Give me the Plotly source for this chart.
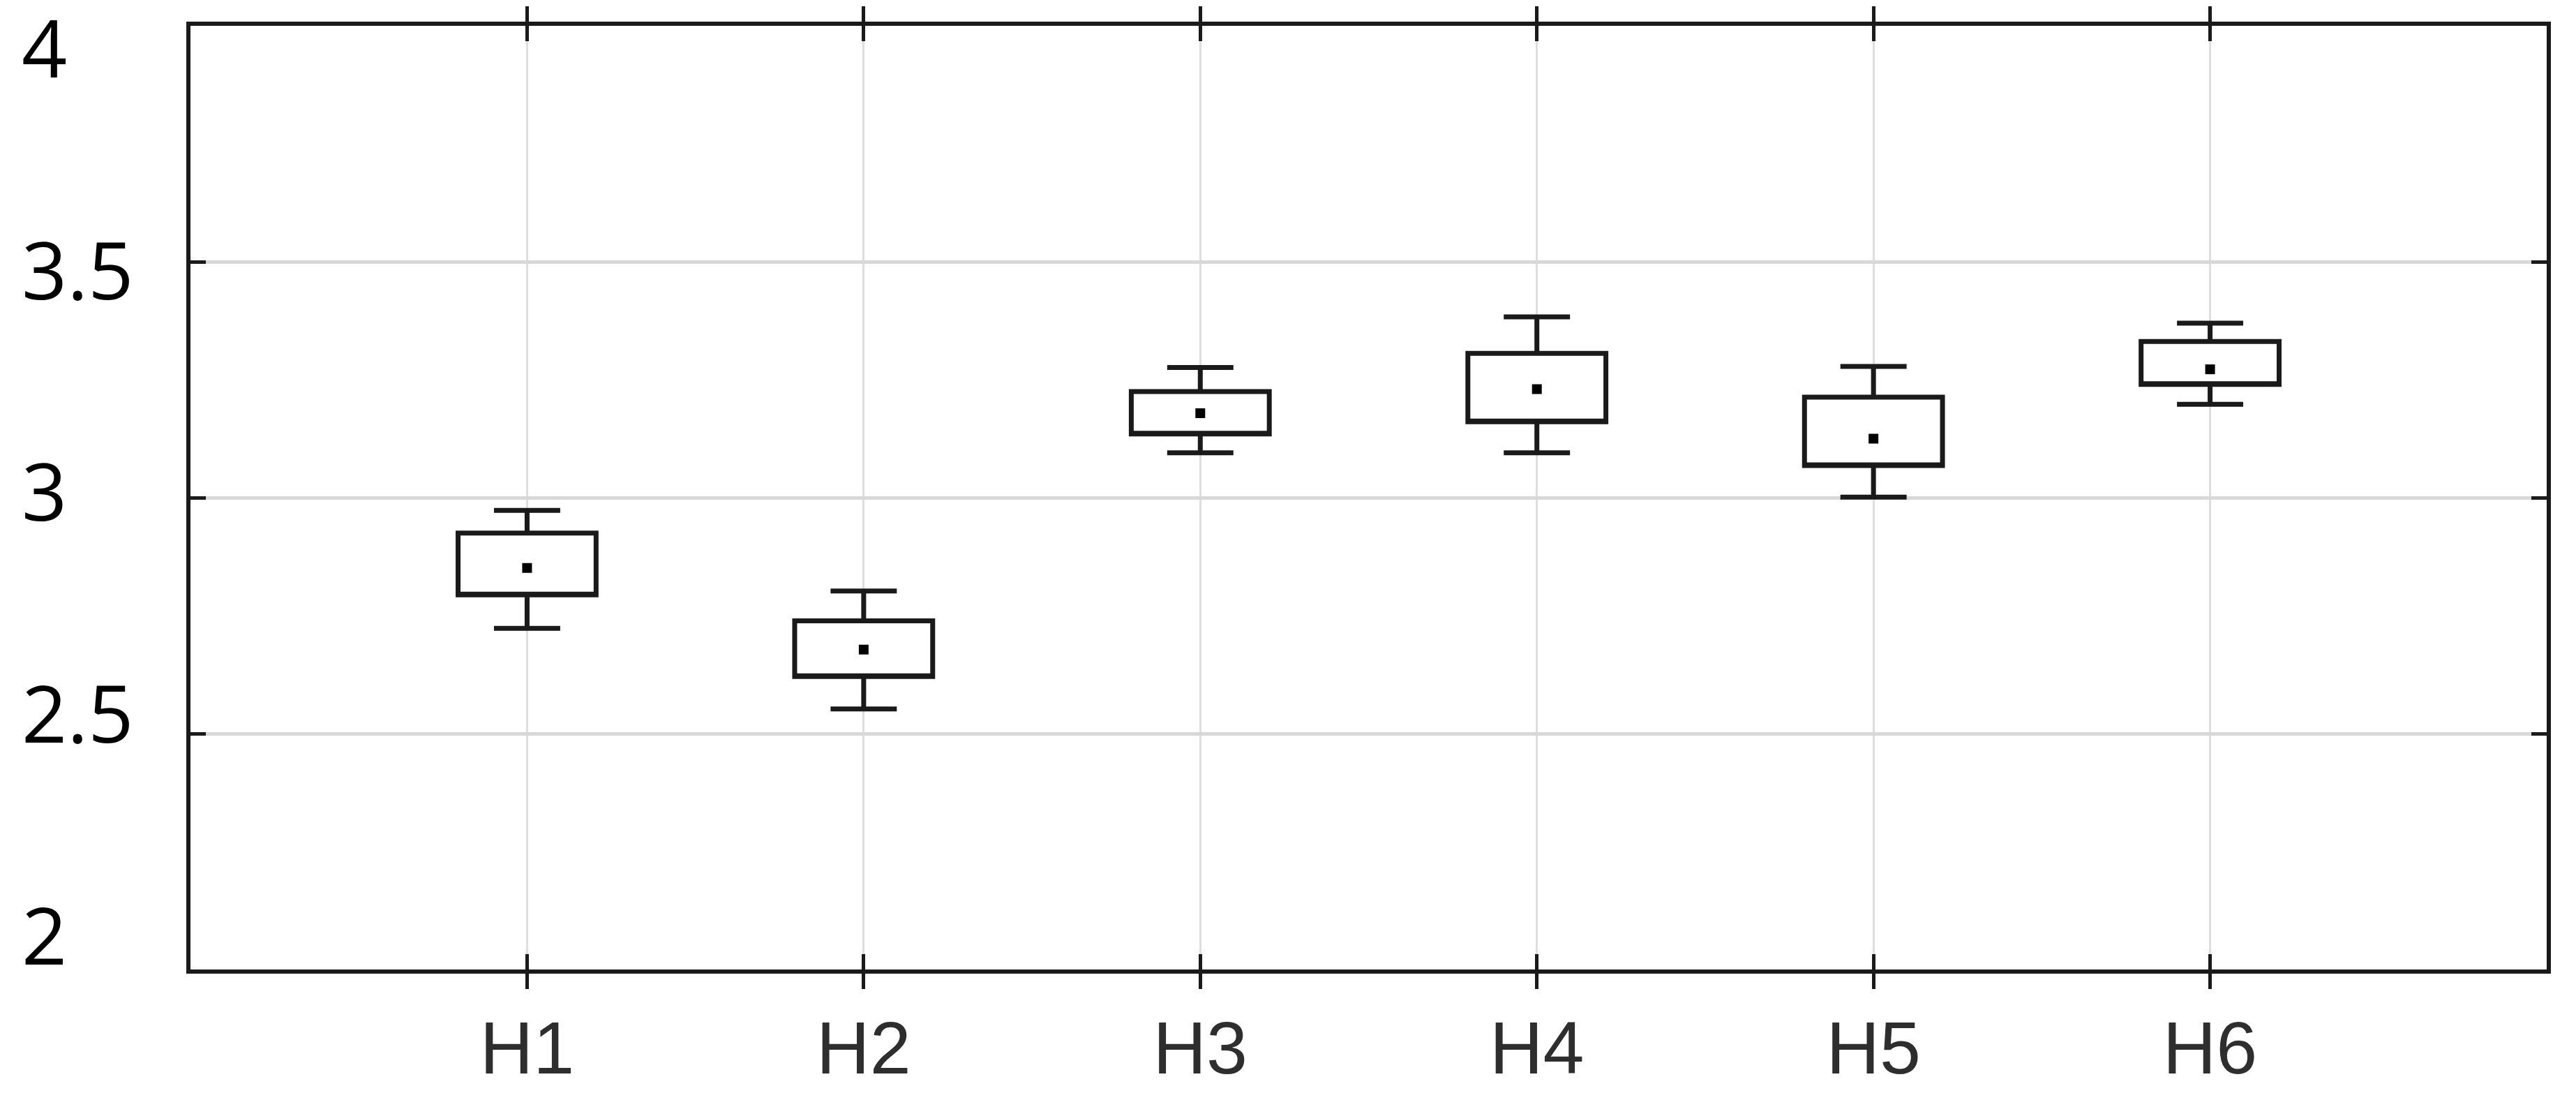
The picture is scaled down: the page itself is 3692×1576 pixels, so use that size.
import plotly.graph_objects as go

# ---- data ----
categories = ["H1", "H2", "H3", "H4", "H5", "H6"]
positions = [1, 2, 3, 4, 5, 6]
means = [2.851, 2.678, 3.179, 3.230, 3.125, 3.272]
box_low = [2.794, 2.621, 3.135, 3.161, 3.068, 3.240]
box_high = [2.925, 2.739, 3.225, 3.306, 3.213, 3.331]
whisker_low = [2.723, 2.552, 3.095, 3.095, 3.001, 3.198]
whisker_high = [2.973, 2.802, 3.276, 3.383, 3.278, 3.370]
y_ticks = [2, 2.5, 3, 3.5, 4]
y_tick_text = ["2", "2.5", "3", "3.5", "4"]

W, H = 3692, 1576
ML, MR, MT, MB = 30, 42, 37, 187
plot_left_px = 273
dom_start = (plot_left_px - ML) / (W - ML - MR)

ink = "#1a1a1a"

fig = go.Figure()

fig.add_trace(go.Box(
    x=positions,
    q1=box_low,
    median=box_low,
    q3=box_high,
    lowerfence=whisker_low,
    upperfence=whisker_high,
    width=0.41,
    whiskerwidth=0.48,
    fillcolor="white",
    line=dict(color=ink, width=7),
    boxpoints=False,
    showlegend=False,
    hoverinfo="skip",
))

fig.add_trace(go.Scatter(
    x=positions,
    y=means,
    mode="markers",
    marker=dict(symbol="square", size=14, color="black"),
    showlegend=False,
    hoverinfo="skip",
))

# invisible trace to carry the label axis
fig.add_trace(go.Scatter(x=[], y=[], yaxis="y2", showlegend=False, hoverinfo="skip"))

fig.update_layout(
    width=W,
    height=H,
    margin=dict(l=ML, r=MR, t=MT, b=MB, pad=0, autoexpand=False),
    paper_bgcolor="white",
    plot_bgcolor="white",
    xaxis=dict(
        domain=[dom_start, 1],
        range=[0, 7],
        automargin=False,
        tickmode="array",
        tickvals=positions,
        ticktext=categories,
        ticks="inside",
        ticklen=22,
        tickwidth=5,
        tickcolor=ink,
        showline=True,
        linecolor=ink,
        linewidth=6,
        mirror="allticks",
        showgrid=True,
        gridcolor="#dedede",
        gridwidth=3,
        zeroline=False,
        tickfont=dict(family="Liberation Sans Narrow, Arial Narrow, Liberation Sans, Arial", size=106, color="#2e2e2e"),
        ticklabelstandoff=16,
    ),
    yaxis=dict(
        range=[2, 4],
        automargin=False,
        tickmode="array",
        tickvals=y_ticks,
        showticklabels=False,
        ticks="inside",
        ticklen=22,
        tickwidth=5,
        tickcolor=ink,
        showline=True,
        linecolor=ink,
        linewidth=6,
        mirror="allticks",
        showgrid=True,
        gridcolor="#d8d8d8",
        gridwidth=5,
        zeroline=False,
    ),
    yaxis2=dict(
        overlaying="y",
        anchor="free",
        position=0,
        side="right",
        automargin=False,
        range=[1.9255, 4.0543],
        tickmode="array",
        tickvals=y_ticks,
        ticktext=y_tick_text,
        ticks="",
        ticklabeloverflow="allow",
        showline=False,
        showgrid=False,
        zeroline=False,
        tickfont=dict(family="Open Sans, Noto Sans, DejaVu Sans", size=114, color="black"),
    ),
)

fig.write_html(
    "out.html",
    config={"displayModeBar": False},
    post_script="document.body.style.margin='0px';document.body.style.padding='0px';",
)
